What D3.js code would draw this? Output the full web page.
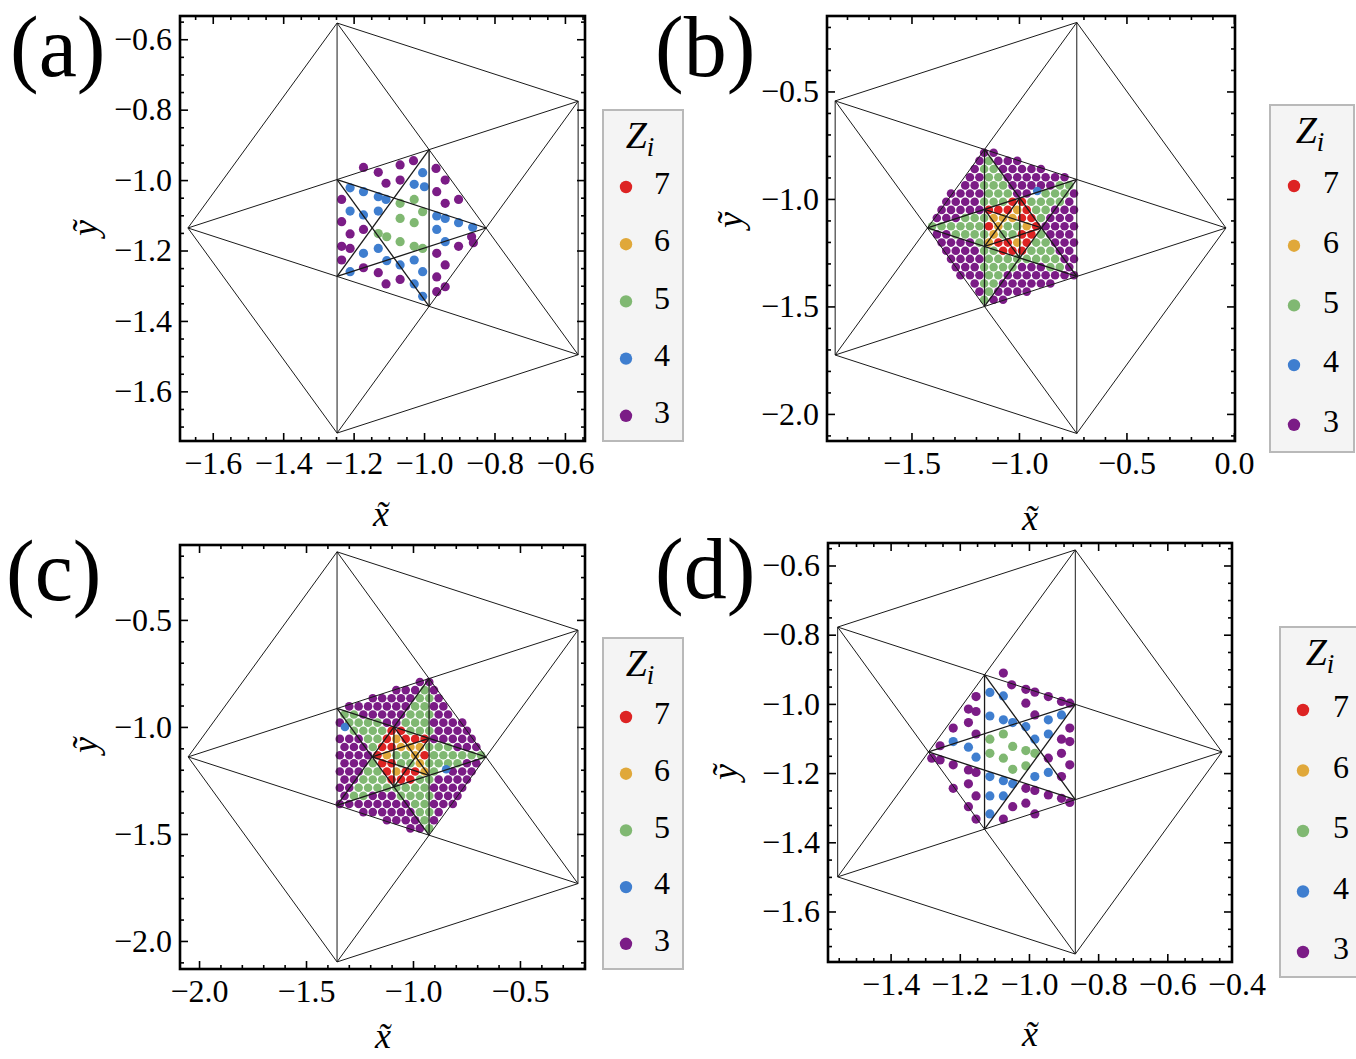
<!DOCTYPE html>
<html>
<head>
<meta charset="utf-8">
<script src="https://cdn.jsdelivr.net/npm/d3@7"></script>
<style>
  body { margin: 0; background: #fff; }
  svg text { font-family: 'Liberation Serif', 'DejaVu Serif', serif; }
</style>
</head>
<body>
<svg id="chart" width="1356" height="1059"></svg>
<script>
// coordination numbers and their colours
const zLevels = [7, 6, 5, 4, 3]
const zColors = ['#dd2323', '#e0a83a', '#80b872', '#3f7ecf', '#7b1c86']

// axis domains and ticks, one set per panel
const xDomainA = [-1.693, -0.543]
const yDomainA = [-1.741, -0.534]
const xTicksA = [-1.6, -1.4, -1.2, -1.0, -0.8, -0.6]
const yTicksA = [-0.6, -0.8, -1.0, -1.2, -1.4, -1.6]

const xDomainB = [-1.893, 0.005]
const yDomainB = [-2.126, -0.149]
const xTicksB = [-1.5, -1.0, -0.5, 0.0]
const yTicksB = [-0.5, -1.0, -1.5, -2.0]

const xDomainC = [-2.089, -0.196]
const yDomainC = [-2.131, -0.150]
const xTicksC = [-2.0, -1.5, -1.0, -0.5]
const yTicksC = [-0.5, -1.0, -1.5, -2.0]

const xDomainD = [-1.581, -0.413]
const yDomainD = [-1.746, -0.535]
const xTicksD = [-1.4, -1.2, -1.0, -0.8, -0.6, -0.4]
const yTicksD = [-0.6, -0.8, -1.0, -1.2, -1.4, -1.6]

// outer pentagon corners (the inner pentagrams are their diagonal crossings)
const outerA = [[-1.6705, -1.136], [-1.247, -0.554], [-0.5625, -0.776], [-0.5625, -1.496], [-1.247, -1.7185]]
const outerB = [[-0.037, -1.135], [-0.731, -0.179], [-1.855, -0.544], [-1.855, -1.726], [-0.731, -2.091]]
const outerC = [[-2.051, -1.140], [-1.355, -0.182], [-0.229, -0.548], [-0.229, -1.732], [-1.355, -2.098]]
const outerD = [[-0.442, -1.139], [-0.866, -0.555], [-1.553, -0.778], [-1.553, -1.500], [-0.866, -1.723]]

// points [x, y, Z]
const dotsA = [
  [-1.172, -0.964, 3], [-1.130, -0.978, 3], [-1.068, -0.957, 3], [-1.030, -0.945, 3], [-1.108, -1.009, 3], [-1.068, -1.000, 3],
  [-1.004, -0.979, 4], [-1.028, -1.012, 4], [-0.999, -1.019, 4],
  [-0.966, -0.967, 3], [-0.940, -1.000, 3], [-0.964, -1.033, 3], [-0.940, -1.066, 3], [-0.902, -1.055, 3],
  [-1.210, -1.022, 4], [-1.172, -1.033, 4], [-1.130, -1.047, 4], [-1.108, -1.055, 4],
  [-1.068, -1.066, 5], [-1.028, -1.055, 5],
  [-1.210, -1.088, 4], [-1.172, -1.099, 4], [-1.130, -1.088, 4],
  [-1.068, -1.109, 5], [-1.028, -1.121, 5], [-1.004, -1.090, 5],
  [-0.964, -1.102, 4], [-0.940, -1.109, 4], [-0.902, -1.121, 4], [-0.862, -1.134, 4],
  [-1.234, -1.055, 3], [-1.234, -1.118, 3], [-1.210, -1.153, 3], [-1.172, -1.140, 3],
  [-1.130, -1.152, 5], [-1.106, -1.161, 5], [-1.068, -1.175, 5], [-1.028, -1.188, 5], [-1.004, -1.194, 5],
  [-0.964, -1.140, 4], [-0.940, -1.175, 4],
  [-0.865, -1.161, 3], [-0.860, -1.178, 3], [-0.902, -1.188, 3],
  [-1.234, -1.188, 3], [-1.210, -1.194, 3], [-1.234, -1.227, 3],
  [-1.172, -1.208, 4], [-1.130, -1.194, 4], [-1.106, -1.229, 4], [-1.068, -1.241, 4], [-1.028, -1.227, 4], [-1.210, -1.260, 4],
  [-1.172, -1.249, 3], [-1.130, -1.263, 3], [-1.108, -1.295, 3], [-1.068, -1.282, 3],
  [-1.028, -1.295, 4], [-1.004, -1.260, 4], [-1.004, -1.330, 4],
  [-0.964, -1.208, 3], [-0.940, -1.241, 3], [-0.964, -1.275, 3], [-0.940, -1.303, 3], [-0.964, -1.317, 3]
]

const dotsB = [
  [-1.162, -0.785, 3], [-1.118, -0.785, 3],
  [-1.184, -0.823, 3], [-1.140, -0.823, 5], [-1.096, -0.823, 3], [-1.052, -0.823, 3], [-1.008, -0.823, 3],
  [-1.206, -0.861, 3], [-1.162, -0.861, 5], [-1.118, -0.861, 5], [-1.074, -0.861, 3], [-1.030, -0.861, 3], [-0.986, -0.861, 3], [-0.942, -0.861, 3], [-0.898, -0.861, 3],
  [-1.228, -0.899, 3], [-1.184, -0.899, 3], [-1.140, -0.899, 5], [-1.096, -0.899, 5], [-1.052, -0.899, 3], [-1.008, -0.899, 3], [-0.964, -0.899, 3], [-0.920, -0.899, 3], [-0.876, -0.899, 3], [-0.832, -0.899, 3], [-0.788, -0.899, 3],
  [-1.250, -0.937, 3], [-1.206, -0.937, 3], [-1.162, -0.937, 5], [-1.118, -0.937, 5], [-1.074, -0.937, 5], [-1.030, -0.937, 3], [-0.986, -0.937, 3], [-0.942, -0.937, 3], [-0.898, -0.937, 3], [-0.854, -0.937, 3], [-0.810, -0.937, 5], [-0.766, -0.937, 5],
  [-1.316, -0.975, 3], [-1.272, -0.975, 3], [-1.228, -0.975, 3], [-1.184, -0.975, 3], [-1.140, -0.975, 5], [-1.096, -0.975, 5], [-1.052, -0.975, 5], [-1.008, -0.975, 3], [-0.964, -0.975, 3], [-0.876, -0.975, 5], [-0.832, -0.975, 5], [-0.788, -0.975, 5], [-0.744, -0.975, 3],
  [-1.338, -1.013, 3], [-1.294, -1.013, 3], [-1.250, -1.013, 3], [-1.206, -1.013, 3], [-1.162, -1.013, 5], [-1.118, -1.013, 5], [-1.074, -1.013, 5], [-1.030, -1.013, 7], [-0.986, -1.013, 7], [-0.942, -1.013, 5], [-0.898, -1.013, 5], [-0.854, -1.013, 5], [-0.810, -1.013, 5], [-0.766, -1.013, 3],
  [-1.360, -1.051, 3], [-1.316, -1.051, 3], [-1.272, -1.051, 3], [-1.228, -1.051, 3], [-1.184, -1.051, 3], [-1.140, -1.051, 7], [-1.096, -1.051, 7], [-1.052, -1.051, 7], [-1.008, -1.051, 6], [-0.964, -1.051, 7], [-0.920, -1.051, 5], [-0.876, -1.051, 5], [-0.832, -1.051, 3], [-0.788, -1.051, 3], [-0.744, -1.051, 3],
  [-1.382, -1.089, 3], [-1.338, -1.089, 3], [-1.294, -1.089, 3], [-1.250, -1.089, 5], [-1.206, -1.089, 5], [-1.162, -1.089, 5], [-1.118, -1.089, 6], [-1.074, -1.089, 6], [-1.030, -1.089, 6], [-0.986, -1.089, 7], [-0.942, -1.089, 7], [-0.898, -1.089, 5], [-0.854, -1.089, 3], [-0.810, -1.089, 3], [-0.766, -1.089, 3],
  [-1.404, -1.127, 5], [-1.360, -1.127, 5], [-1.316, -1.127, 5], [-1.272, -1.127, 5], [-1.228, -1.127, 5], [-1.184, -1.127, 5], [-1.140, -1.127, 7], [-1.096, -1.127, 6], [-1.052, -1.127, 5], [-1.008, -1.127, 5], [-0.964, -1.127, 6], [-0.920, -1.127, 7], [-0.876, -1.127, 3], [-0.832, -1.127, 3], [-0.788, -1.127, 3], [-0.744, -1.127, 3],
  [-1.382, -1.165, 3], [-1.338, -1.165, 3], [-1.294, -1.165, 5], [-1.250, -1.165, 5], [-1.206, -1.165, 5], [-1.162, -1.165, 5], [-1.118, -1.165, 6], [-1.074, -1.165, 5], [-1.030, -1.165, 5], [-0.986, -1.165, 7], [-0.942, -1.165, 7], [-0.898, -1.165, 5], [-0.854, -1.165, 3], [-0.810, -1.165, 3], [-0.766, -1.165, 3],
  [-1.360, -1.203, 3], [-1.316, -1.203, 3], [-1.272, -1.203, 3], [-1.228, -1.203, 3], [-1.184, -1.203, 5], [-1.140, -1.203, 6], [-1.096, -1.203, 7], [-1.052, -1.203, 7], [-1.008, -1.203, 6], [-0.964, -1.203, 7], [-0.920, -1.203, 5], [-0.876, -1.203, 5], [-0.832, -1.203, 3], [-0.788, -1.203, 3], [-0.744, -1.203, 3],
  [-1.338, -1.241, 3], [-1.294, -1.241, 3], [-1.250, -1.241, 3], [-1.206, -1.241, 3], [-1.162, -1.241, 5], [-1.118, -1.241, 5], [-1.074, -1.241, 7], [-1.030, -1.241, 7], [-0.986, -1.241, 7], [-0.942, -1.241, 5], [-0.898, -1.241, 5], [-0.854, -1.241, 5], [-0.810, -1.241, 3], [-0.766, -1.241, 3],
  [-1.316, -1.279, 3], [-1.272, -1.279, 3], [-1.228, -1.279, 3], [-1.184, -1.279, 3], [-1.140, -1.279, 5], [-1.096, -1.279, 5], [-1.052, -1.279, 5], [-1.008, -1.279, 5], [-0.964, -1.279, 5], [-0.920, -1.279, 5], [-0.876, -1.279, 5], [-0.832, -1.279, 5], [-0.788, -1.279, 3], [-0.744, -1.279, 3],
  [-1.294, -1.317, 3], [-1.250, -1.317, 3], [-1.206, -1.317, 3], [-1.162, -1.317, 5], [-1.118, -1.317, 5], [-1.074, -1.317, 5], [-1.030, -1.317, 5], [-0.986, -1.317, 3], [-0.942, -1.317, 3], [-0.898, -1.317, 3], [-0.854, -1.317, 5], [-0.810, -1.317, 5], [-0.766, -1.317, 3],
  [-1.272, -1.355, 3], [-1.228, -1.355, 3], [-1.184, -1.355, 3], [-1.140, -1.355, 5], [-1.096, -1.355, 5], [-1.052, -1.355, 3], [-1.008, -1.355, 3], [-0.964, -1.355, 3], [-0.920, -1.355, 3], [-0.876, -1.355, 3], [-0.832, -1.355, 3], [-0.788, -1.355, 3], [-0.744, -1.355, 3],
  [-1.206, -1.393, 3], [-1.162, -1.393, 5], [-1.118, -1.393, 5], [-1.074, -1.393, 3], [-1.030, -1.393, 3], [-0.986, -1.393, 3], [-0.942, -1.393, 3], [-0.898, -1.393, 3], [-0.854, -1.393, 3],
  [-1.184, -1.431, 3], [-1.140, -1.431, 5], [-1.096, -1.431, 3], [-1.052, -1.431, 3], [-1.008, -1.431, 3], [-0.964, -1.431, 3],
  [-1.162, -1.469, 5], [-1.118, -1.469, 3], [-1.074, -1.469, 3],
  [-0.915, -0.963, 4]
]

const dotsC = [
  [-0.924, -0.790, 3], [-0.968, -0.790, 3],
  [-0.902, -0.828, 3], [-0.946, -0.828, 5], [-0.990, -0.828, 3], [-1.034, -0.828, 3], [-1.078, -0.828, 3],
  [-0.880, -0.866, 3], [-0.924, -0.866, 5], [-0.968, -0.866, 5], [-1.012, -0.866, 3], [-1.056, -0.866, 3], [-1.100, -0.866, 3], [-1.144, -0.866, 3], [-1.188, -0.866, 3],
  [-0.858, -0.904, 3], [-0.902, -0.904, 3], [-0.946, -0.904, 5], [-0.990, -0.904, 5], [-1.034, -0.904, 3], [-1.078, -0.904, 3], [-1.122, -0.904, 3], [-1.166, -0.904, 3], [-1.210, -0.904, 3], [-1.254, -0.904, 3], [-1.298, -0.904, 3],
  [-0.836, -0.942, 3], [-0.880, -0.942, 3], [-0.924, -0.942, 5], [-0.968, -0.942, 5], [-1.012, -0.942, 5], [-1.056, -0.942, 3], [-1.100, -0.942, 3], [-1.144, -0.942, 3], [-1.188, -0.942, 3], [-1.232, -0.942, 3], [-1.276, -0.942, 5], [-1.320, -0.942, 5],
  [-0.770, -0.980, 3], [-0.814, -0.980, 3], [-0.858, -0.980, 3], [-0.902, -0.980, 3], [-0.946, -0.980, 5], [-0.990, -0.980, 5], [-1.034, -0.980, 5], [-1.078, -0.980, 3], [-1.122, -0.980, 3], [-1.166, -0.980, 5], [-1.210, -0.980, 5], [-1.254, -0.980, 5], [-1.298, -0.980, 5], [-1.342, -0.980, 3],
  [-0.748, -1.018, 3], [-0.792, -1.018, 3], [-0.836, -1.018, 3], [-0.880, -1.018, 3], [-0.924, -1.018, 5], [-0.968, -1.018, 5], [-1.012, -1.018, 5], [-1.056, -1.018, 7], [-1.100, -1.018, 7], [-1.144, -1.018, 5], [-1.188, -1.018, 5], [-1.232, -1.018, 5], [-1.276, -1.018, 5],
  [-0.726, -1.056, 3], [-0.770, -1.056, 3], [-0.814, -1.056, 3], [-0.858, -1.056, 3], [-0.902, -1.056, 3], [-0.946, -1.056, 7], [-0.990, -1.056, 7], [-1.034, -1.056, 7], [-1.078, -1.056, 6], [-1.122, -1.056, 7], [-1.166, -1.056, 5], [-1.210, -1.056, 5], [-1.254, -1.056, 3], [-1.298, -1.056, 3], [-1.342, -1.056, 3],
  [-0.704, -1.094, 3], [-0.748, -1.094, 3], [-0.792, -1.094, 3], [-0.836, -1.094, 5], [-0.880, -1.094, 5], [-0.924, -1.094, 5], [-0.968, -1.094, 6], [-1.012, -1.094, 6], [-1.056, -1.094, 6], [-1.100, -1.094, 7], [-1.144, -1.094, 7], [-1.188, -1.094, 5], [-1.232, -1.094, 3], [-1.276, -1.094, 3], [-1.320, -1.094, 3],
  [-0.682, -1.132, 5], [-0.726, -1.132, 5], [-0.770, -1.132, 5], [-0.814, -1.132, 5], [-0.858, -1.132, 5], [-0.902, -1.132, 5], [-0.946, -1.132, 7], [-0.990, -1.132, 6], [-1.034, -1.132, 5], [-1.078, -1.132, 5], [-1.122, -1.132, 6], [-1.166, -1.132, 7], [-1.210, -1.132, 3], [-1.254, -1.132, 3], [-1.298, -1.132, 3], [-1.342, -1.132, 3],
  [-0.704, -1.170, 3], [-0.748, -1.170, 3], [-0.792, -1.170, 5], [-0.836, -1.170, 5], [-0.880, -1.170, 5], [-0.924, -1.170, 5], [-0.968, -1.170, 6], [-1.012, -1.170, 5], [-1.056, -1.170, 5], [-1.100, -1.170, 7], [-1.144, -1.170, 7], [-1.188, -1.170, 5], [-1.232, -1.170, 3], [-1.276, -1.170, 3], [-1.320, -1.170, 3],
  [-0.726, -1.208, 3], [-0.770, -1.208, 3], [-0.814, -1.208, 3], [-0.902, -1.208, 5], [-0.946, -1.208, 6], [-0.990, -1.208, 7], [-1.034, -1.208, 7], [-1.078, -1.208, 6], [-1.122, -1.208, 7], [-1.166, -1.208, 5], [-1.210, -1.208, 5], [-1.254, -1.208, 3], [-1.298, -1.208, 3], [-1.342, -1.208, 3],
  [-0.748, -1.246, 3], [-0.792, -1.246, 3], [-0.836, -1.246, 3], [-0.880, -1.246, 3], [-0.924, -1.246, 5], [-0.968, -1.246, 5], [-1.012, -1.246, 7], [-1.056, -1.246, 7], [-1.100, -1.246, 7], [-1.144, -1.246, 5], [-1.188, -1.246, 5], [-1.232, -1.246, 5], [-1.276, -1.246, 3], [-1.320, -1.246, 3],
  [-0.770, -1.284, 3], [-0.814, -1.284, 3], [-0.858, -1.284, 3], [-0.902, -1.284, 3], [-0.946, -1.284, 5], [-0.990, -1.284, 5], [-1.034, -1.284, 5], [-1.078, -1.284, 5], [-1.122, -1.284, 5], [-1.166, -1.284, 5], [-1.210, -1.284, 5], [-1.254, -1.284, 5], [-1.298, -1.284, 3], [-1.342, -1.284, 3],
  [-0.792, -1.322, 3], [-0.836, -1.322, 3], [-0.880, -1.322, 3], [-0.924, -1.322, 5], [-0.968, -1.322, 5], [-1.012, -1.322, 5], [-1.056, -1.322, 5], [-1.100, -1.322, 3], [-1.144, -1.322, 3], [-1.188, -1.322, 3], [-1.232, -1.322, 5], [-1.276, -1.322, 5], [-1.320, -1.322, 3],
  [-0.814, -1.360, 3], [-0.858, -1.360, 3], [-0.902, -1.360, 3], [-0.946, -1.360, 5], [-0.990, -1.360, 5], [-1.034, -1.360, 3], [-1.078, -1.360, 3], [-1.122, -1.360, 3], [-1.166, -1.360, 3], [-1.210, -1.360, 3], [-1.254, -1.360, 3], [-1.298, -1.360, 3], [-1.342, -1.360, 3],
  [-0.880, -1.398, 3], [-0.924, -1.398, 5], [-0.968, -1.398, 5], [-1.012, -1.398, 3], [-1.056, -1.398, 3], [-1.100, -1.398, 3], [-1.144, -1.398, 3], [-1.188, -1.398, 3], [-1.232, -1.398, 3],
  [-0.902, -1.436, 3], [-0.946, -1.436, 5], [-0.990, -1.436, 3], [-1.034, -1.436, 3], [-1.078, -1.436, 3], [-1.122, -1.436, 3],
  [-0.924, -1.474, 5], [-0.968, -1.474, 3], [-1.012, -1.474, 3],
  [-1.318, -1.000, 4], [-0.845, -1.198, 4]
]

const dotsD = [
  [-1.074, -0.911, 3], [-1.050, -0.945, 3], [-1.009, -0.958, 3], [-0.983, -0.966, 3], [-0.944, -0.979, 3], [-0.906, -0.993, 3], [-0.882, -0.998, 3],
  [-1.009, -0.998, 3], [-1.153, -0.979, 3], [-1.175, -1.015, 3], [-1.153, -1.022, 3], [-1.219, -1.070, 3], [-1.175, -1.054, 3], [-1.153, -1.087, 3],
  [-1.257, -1.121, 3], [-1.281, -1.157, 3], [-1.257, -1.162, 3], [-1.219, -1.176, 3], [-1.175, -1.191, 3], [-1.153, -1.198, 3],
  [-1.219, -1.244, 3], [-1.175, -1.231, 3], [-1.153, -1.266, 3], [-1.175, -1.297, 3], [-1.153, -1.333, 3], [-1.074, -1.333, 3],
  [-1.047, -1.297, 3], [-1.009, -1.287, 3], [-0.983, -1.318, 3], [-0.983, -1.250, 3], [-0.944, -1.263, 3], [-1.009, -1.244, 3],
  [-0.906, -1.273, 3], [-0.882, -1.285, 3], [-0.906, -1.210, 3], [-0.882, -1.176, 3], [-0.906, -1.143, 3], [-0.882, -1.109, 3],
  [-0.906, -1.102, 3], [-0.882, -1.070, 3], [-0.944, -1.157, 3], [-0.983, -1.032, 3],
  [-1.113, -0.967, 4], [-1.074, -0.977, 4], [-1.113, -1.035, 4], [-1.074, -1.046, 4], [-1.047, -1.054, 4], [-1.009, -1.066, 4],
  [-0.983, -1.102, 4], [-0.944, -1.046, 4], [-0.944, -1.087, 4], [-0.906, -1.032, 4], [-1.219, -1.109, 4], [-1.175, -1.125, 4],
  [-1.153, -1.154, 4], [-1.113, -1.210, 4], [-1.074, -1.222, 4], [-1.047, -1.231, 4], [-1.113, -1.266, 4], [-1.074, -1.266, 4],
  [-1.113, -1.318, 4], [-0.983, -1.210, 4], [-0.944, -1.198, 4],
  [-1.113, -1.102, 5], [-1.074, -1.087, 5], [-1.047, -1.123, 5], [-1.009, -1.135, 5], [-0.983, -1.143, 5],
  [-1.113, -1.143, 5], [-1.074, -1.157, 5], [-1.047, -1.189, 5], [-1.009, -1.179, 5]
]

const panels = [
  { id: 'a', tag: '(a)', xDomain: xDomainA, yDomain: yDomainA, xTicks: xTicksA, yTicks: yTicksA, minorStep: 0.05, outer: outerA, levels: 2, dots: dotsA },
  { id: 'b', tag: '(b)', xDomain: xDomainB, yDomain: yDomainB, xTicks: xTicksB, yTicks: yTicksB, minorStep: 0.1, outer: outerB, levels: 3, dots: dotsB },
  { id: 'c', tag: '(c)', xDomain: xDomainC, yDomain: yDomainC, xTicks: xTicksC, yTicks: yTicksC, minorStep: 0.1, outer: outerC, levels: 3, dots: dotsC },
  { id: 'd', tag: '(d)', xDomain: xDomainD, yDomain: yDomainD, xTicks: xTicksD, yTicks: yTicksD, minorStep: 0.05, outer: outerD, levels: 2, dots: dotsD }
]

// page layout (pixels)
const layout = {
  a: { box: [180, 16, 585, 441], r: 4.6, tag: [10, 76], xLab: [381, 526], yLab: [97, 228], legend: [603, 110, 683, 441], legTitle: [640, 148], row0: 183, step: 57.2, dotX: 626, textX: 654 },
  b: { box: [827, 16, 1235, 441], r: 4.3, tag: [655, 76], xLab: [1030, 530], yLab: [742, 220], legend: [1270, 105, 1354, 452], legTitle: [1310, 143], row0: 182, step: 59.7, dotX: 1294, textX: 1323 },
  c: { box: [180, 545, 585, 969], r: 4.3, tag: [6, 600], xLab: [383, 1048], yLab: [97, 745], legend: [603, 638, 683, 969], legTitle: [640, 676], row0: 713, step: 56.7, dotX: 626, textX: 654 },
  d: { box: [828, 543, 1232, 962], r: 4.6, tag: [655, 598], xLab: [1030, 1046], yLab: [737, 772], legend: [1280, 627, 1362, 977], legTitle: [1320, 665], row0: 706, step: 60.5, dotX: 1303, textX: 1333 }
}

const color = d3.scaleOrdinal().domain(zLevels).range(zColors)
const fmt = d3.format('.1f')
const svg = d3.select('#chart')

function intersect (p1, p2, p3, p4) {
  const d = (p1[0] - p2[0]) * (p3[1] - p4[1]) - (p1[1] - p2[1]) * (p3[0] - p4[0])
  const a = p1[0] * p2[1] - p1[1] * p2[0]
  const b = p3[0] * p4[1] - p3[1] * p4[0]
  return [(a * (p3[0] - p4[0]) - (p1[0] - p2[0]) * b) / d, (a * (p3[1] - p4[1]) - (p1[1] - p2[1]) * b) / d]
}

// outer edges, then the diagonals of each nested pentagon
function pentagramSegments (outer, levels) {
  const segs = []
  let v = outer
  for (let i = 0; i < 5; i++) segs.push({ a: v[i], b: v[(i + 1) % 5], level: 0 })
  for (let l = 0; l < levels; l++) {
    for (let i = 0; i < 5; i++) segs.push({ a: v[i], b: v[(i + 2) % 5], level: l })
    const w = v
    v = d3.range(5).map(i => intersect(w[i], w[(i + 2) % 5], w[(i + 1) % 5], w[(i + 3) % 5]))
  }
  return segs
}

function minorTicks (domain, step, major) {
  const start = Math.ceil(domain[0] / step - 1e-9)
  const stop = Math.floor(domain[1] / step + 1e-9)
  return d3.range(start, stop + 1)
    .map(i => +(i * step).toFixed(3))
    .filter(v => !major.some(m => Math.abs(m - v) < 1e-6))
}

const inside = (dom, v) => v >= Math.min(...dom) && v <= Math.max(...dom)

function styleAxis (sel, dom) {
  sel.select('.domain').remove()
  sel.selectAll('.tick').filter(d => !inside(dom, d)).select('line').remove()
  sel.selectAll('line').attr('stroke', '#000').attr('stroke-width', 1.6)
  sel.attr('font-family', "'Liberation Serif', serif").attr('font-size', 32)
  sel.selectAll('text').attr('fill', '#000')
}

function drawPanel (p) {
  const L = layout[p.id]
  const [x0, y0, x1, y1] = L.box
  const x = d3.scaleLinear().domain(p.xDomain).range([x0, x1])
  const y = d3.scaleLinear().domain(p.yDomain).range([y1, y0])
  const g = svg.append('g').attr('class', 'panel-' + p.id)

  g.append('clipPath').attr('id', 'clip-' + p.id)
    .append('rect').attr('x', x0).attr('y', y0).attr('width', x1 - x0).attr('height', y1 - y0)
  const plot = g.append('g').attr('clip-path', `url(#clip-${p.id})`)

  plot.selectAll('circle.dot')
    .data(p.dots)
    .join('circle')
    .attr('class', 'dot')
    .attr('cx', d => x(d[0]))
    .attr('cy', d => y(d[1]))
    .attr('r', L.r)
    .attr('fill', d => color(d[2]))

  plot.selectAll('line.edge')
    .data(pentagramSegments(p.outer, p.levels))
    .join('line')
    .attr('class', 'edge')
    .attr('x1', d => x(d.a[0]))
    .attr('y1', d => y(d.a[1]))
    .attr('x2', d => x(d.b[0]))
    .attr('y2', d => y(d.b[1]))
    .attr('stroke', '#1a1a1a')
    .attr('stroke-width', d => d.level === 0 ? 1 : 1.3)

  const xMinor = minorTicks(p.xDomain, p.minorStep, p.xTicks)
  const yMinor = minorTicks(p.yDomain, p.minorStep, p.yTicks)

  g.append('g').attr('transform', `translate(0,${y1})`)
    .call(d3.axisBottom(x).tickValues(p.xTicks).tickSize(-8).tickPadding(10).tickFormat(fmt))
    .call(s => styleAxis(s, p.xDomain))
  g.append('g').attr('transform', `translate(0,${y1})`)
    .call(d3.axisBottom(x).tickValues(xMinor).tickSize(-4).tickFormat(''))
    .call(s => styleAxis(s, p.xDomain))
  g.append('g').attr('transform', `translate(0,${y0})`)
    .call(d3.axisTop(x).tickValues(p.xTicks).tickSize(-8).tickFormat(''))
    .call(s => styleAxis(s, p.xDomain))
  g.append('g').attr('transform', `translate(0,${y0})`)
    .call(d3.axisTop(x).tickValues(xMinor).tickSize(-4).tickFormat(''))
    .call(s => styleAxis(s, p.xDomain))
  g.append('g').attr('transform', `translate(${x0},0)`)
    .call(d3.axisLeft(y).tickValues(p.yTicks).tickSize(-8).tickPadding(8).tickFormat(fmt))
    .call(s => styleAxis(s, p.yDomain))
  g.append('g').attr('transform', `translate(${x0},0)`)
    .call(d3.axisLeft(y).tickValues(yMinor).tickSize(-4).tickFormat(''))
    .call(s => styleAxis(s, p.yDomain))
  g.append('g').attr('transform', `translate(${x1},0)`)
    .call(d3.axisRight(y).tickValues(p.yTicks).tickSize(-8).tickFormat(''))
    .call(s => styleAxis(s, p.yDomain))
  g.append('g').attr('transform', `translate(${x1},0)`)
    .call(d3.axisRight(y).tickValues(yMinor).tickSize(-4).tickFormat(''))
    .call(s => styleAxis(s, p.yDomain))

  g.append('rect')
    .attr('x', x0).attr('y', y0).attr('width', x1 - x0).attr('height', y1 - y0)
    .attr('fill', 'none').attr('stroke', '#000').attr('stroke-width', 2.6)

  g.append('text')
    .attr('x', L.xLab[0]).attr('y', L.xLab[1])
    .attr('text-anchor', 'middle').attr('font-size', 36).attr('font-style', 'italic')
    .text('x\u0303')
  g.append('text')
    .attr('transform', `translate(${L.yLab[0]},${L.yLab[1]}) rotate(-90)`)
    .attr('text-anchor', 'middle').attr('font-size', 36).attr('font-style', 'italic')
    .text('y\u0303')

  g.append('text')
    .attr('x', L.tag[0]).attr('y', L.tag[1])
    .attr('font-size', 86)
    .text(p.tag)

  drawLegend(L)
}

function drawLegend (L) {
  const [lx0, ly0, lx1, ly1] = L.legend
  const lg = svg.append('g')
  lg.append('rect')
    .attr('x', lx0).attr('y', ly0).attr('width', lx1 - lx0).attr('height', ly1 - ly0)
    .attr('fill', '#f4f4f4').attr('stroke', '#b9b9b9').attr('stroke-width', 2)

  const title = lg.append('text')
    .attr('x', L.legTitle[0]).attr('y', L.legTitle[1])
    .attr('text-anchor', 'middle').attr('font-style', 'italic')
  title.append('tspan').attr('font-size', 38).text('Z')
  title.append('tspan').attr('font-size', 27).attr('dy', 8).text('i')

  const rows = lg.selectAll('g.row')
    .data(zLevels)
    .join('g')
    .attr('class', 'row')
    .attr('transform', (d, i) => `translate(0,${L.row0 + i * L.step})`)
  rows.append('circle')
    .attr('cx', L.dotX).attr('cy', 4).attr('r', 6.2)
    .attr('fill', d => color(d))
  rows.append('text')
    .attr('x', L.textX).attr('y', 0).attr('dy', '0.35em')
    .attr('font-size', 32)
    .text(d => d)
}

panels.forEach(drawPanel)
</script>
</body>
</html>
